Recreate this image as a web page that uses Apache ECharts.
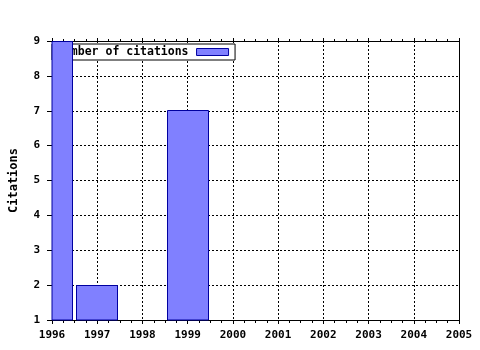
<!DOCTYPE html>
<html><head><meta charset="utf-8">
<script src="https://cdn.jsdelivr.net/npm/echarts@6/dist/echarts.min.js"></script>
<style>html,body{margin:0;padding:0;background:#fff}#c{width:480px;height:350px}</style>
</head><body><div id="c"></div>
<script>
var years = [1996, 1997, 1999];
var citations = [9, 2, 7];
var seriesName = 'Number of citations';
var yTitle = 'Citations';

var font = 'DejaVu Sans Mono';
var fill = '#8080ff', edge = '#0000a0';
var chart = echarts.init(document.getElementById('c'), null, {renderer: 'canvas'});
var data = years.map(function (y, i) { return [y, citations[i]]; });
chart.setOption({
  animation: false,
  backgroundColor: '#fff',
  grid: {left: 51, right: 21, top: 41, bottom: 30, containLabel: false},
  legend: {
    z: 1,
    left: 52, top: 44,
    align: 'right',
    icon: 'rect',
    backgroundColor: '#fff',
    borderColor: '#000', borderWidth: 1, borderRadius: 0,
    padding: [2, 6, 2, 5],
    itemWidth: 32, itemHeight: 7,
    itemStyle: {color: fill, borderColor: edge, borderWidth: 1},
    textStyle: {fontFamily: font, fontWeight: 'bold', fontSize: 11.5, color: '#000', lineHeight: 9, padding: [0, 3, 0, 0]},
    data: [seriesName]
  },
  xAxis: [{
    type: 'value', min: 1996, max: 2005, interval: 1, position: 'bottom',
    axisLine: {show: true, onZero: false, lineStyle: {color: '#000', width: 1}},
    axisTick: {show: true, length: 4, lineStyle: {color: '#000'}},
    minorTick: {show: true, splitNumber: 4, length: 3, lineStyle: {color: '#000'}},
    axisLabel: {fontFamily: font, fontWeight: 'bold', fontSize: 11, color: '#000', margin: 10, formatter: function (v) { return String(v); }},
    splitLine: {show: true, lineStyle: {color: '#000', type: [2, 2], width: 1}}
  }, {
    type: 'value', min: 1996, max: 2005, interval: 1, position: 'top',
    axisLine: {show: true, onZero: false, lineStyle: {color: '#000', width: 1}},
    axisTick: {show: true, length: 3, lineStyle: {color: '#000'}},
    minorTick: {show: true, splitNumber: 4, length: 2, lineStyle: {color: '#000'}},
    axisLabel: {show: false},
    splitLine: {show: false}
  }],
  yAxis: [{
    type: 'value', min: 1, max: 9, interval: 1, position: 'left',
    name: yTitle, nameLocation: 'middle', nameGap: 32, nameRotate: 90,
    nameTextStyle: {fontFamily: font, fontWeight: 'bold', fontSize: 12, color: '#000'},
    axisLine: {show: true, onZero: false, lineStyle: {color: '#000', width: 1}},
    axisTick: {show: true, length: 5, lineStyle: {color: '#000'}},
    axisLabel: {fontFamily: font, fontWeight: 'bold', fontSize: 11, color: '#000', margin: 12},
    splitLine: {show: true, lineStyle: {color: '#000', type: [2, 2], width: 1}}
  }, {
    type: 'value', min: 1, max: 9, interval: 1, position: 'right',
    axisLine: {show: true, onZero: false, lineStyle: {color: '#000', width: 1}},
    axisTick: {show: false}, axisLabel: {show: false}, splitLine: {show: false}
  }],
  series: [{
    name: seriesName, type: 'custom', z: 3,
    xAxisIndex: 0, yAxisIndex: 0,
    itemStyle: {color: fill, borderColor: edge, borderWidth: 1},
    encode: {x: 0, y: 1},
    renderItem: function (params, api) {
      var x = api.value(0), v = api.value(1);
      var w = Math.round(api.size([1, 0])[0] * 0.905);
      var base = api.coord([x, 1]);
      var top = api.coord([x, v]);
      var x0 = Math.floor(base[0] - w / 2) + 0.5;
      var y0 = Math.floor(top[1]) + 0.5;
      var rect = {x: x0, y: y0, width: w, height: base[1] - y0};
      var cs = params.coordSys;
      var clipped = echarts.graphic.clipRectByRect(rect, {x: cs.x, y: cs.y, width: cs.width, height: cs.height});
      if (!clipped) return null;
      return {type: 'rect', shape: clipped, style: {fill: fill, stroke: edge, lineWidth: 1}};
    },
    data: data
  }]
});
</script></body></html>
